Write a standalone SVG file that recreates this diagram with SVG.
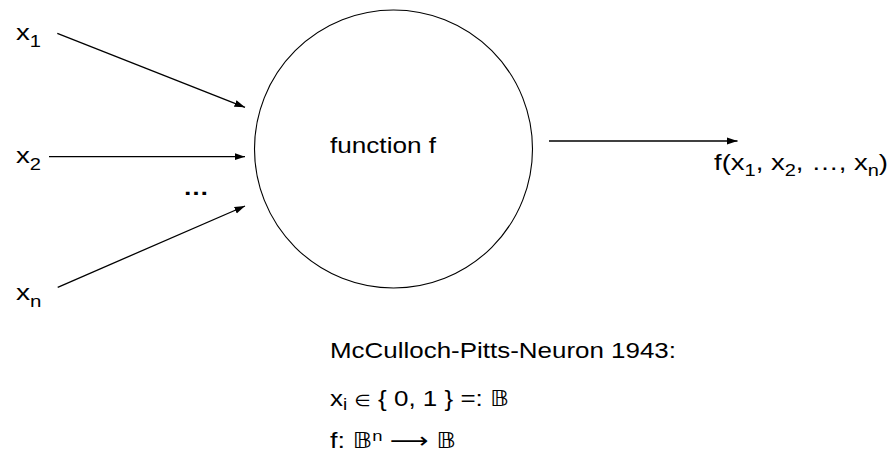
<svg xmlns="http://www.w3.org/2000/svg" width="896" height="454" viewBox="0 0 896 454">
<style>
.t{font-family:"Liberation Sans",Arial,"DejaVu Sans",sans-serif;font-size:22px;fill:#000}
.sub{font-size:16px}
.conn{stroke:#000;stroke-width:1.3;fill:none;marker-end:url(#ah)}
</style>
<defs>
<marker id="ah" markerUnits="userSpaceOnUse" markerWidth="11" markerHeight="8" refX="10.5" refY="4" orient="auto">
<path d="M0,0.5 L10.5,4 L0,7.5 z" fill="#000"/>
</marker>
</defs>
<rect width="896" height="454" fill="#fff"/>
<g id="neuron">
<circle cx="393.5" cy="149" r="139" fill="none" stroke="#000" stroke-width="1.1"/>
<text class="t" x="330" y="153.3" textLength="106" lengthAdjust="spacingAndGlyphs">function f</text>
</g>
<g id="input-x1"><text class="t" x="16" y="40" textLength="25" lengthAdjust="spacingAndGlyphs">x<tspan class="sub" dy="6.5">1</tspan></text></g>
<g id="input-x2"><text class="t" x="16" y="163.3" textLength="25" lengthAdjust="spacingAndGlyphs">x<tspan class="sub" dy="6.5">2</tspan></text></g>
<g id="input-dots"><text class="t" x="183" y="195" font-weight="bold" textLength="26" lengthAdjust="spacingAndGlyphs">…</text></g>
<g id="input-xn"><text class="t" x="16" y="300" textLength="25.5" lengthAdjust="spacingAndGlyphs">x<tspan class="sub" dy="6.5">n</tspan></text></g>
<g id="output"><text class="t" x="714" y="170" textLength="174" lengthAdjust="spacingAndGlyphs">f(x<tspan class="sub" dy="5.5">1</tspan><tspan dy="-5.5">, x</tspan><tspan class="sub" dy="5.5">2</tspan><tspan dy="-5.5">, …, x</tspan><tspan class="sub" dy="5.5">n</tspan><tspan dy="-5.5">)</tspan></text></g>
<g id="connectors">
<line class="conn" x1="57.3" y1="33.3" x2="245" y2="107.3"/>
<line class="conn" x1="49" y1="156.7" x2="245" y2="156.7"/>
<line class="conn" x1="57.7" y1="287.3" x2="245" y2="206"/>
<line class="conn" x1="549" y1="141" x2="737.5" y2="141"/>
</g>
<g id="notes">
<text class="t" x="330" y="357.7" textLength="346" lengthAdjust="spacingAndGlyphs">McCulloch-Pitts-Neuron 1943:</text>
<text class="t" x="330" y="405.7" textLength="179" lengthAdjust="spacingAndGlyphs">x<tspan class="sub" dy="4.5">i</tspan><tspan dy="-4.5"> <tspan font-size="16">∈</tspan> { 0, 1 } =: 𝔹</tspan></text>
<text class="t" x="330" y="448" textLength="126" lengthAdjust="spacingAndGlyphs">f: 𝔹<tspan font-size="15" dy="-7">n</tspan><tspan dy="7"> ⟶ 𝔹</tspan></text>
</g>
</svg>
